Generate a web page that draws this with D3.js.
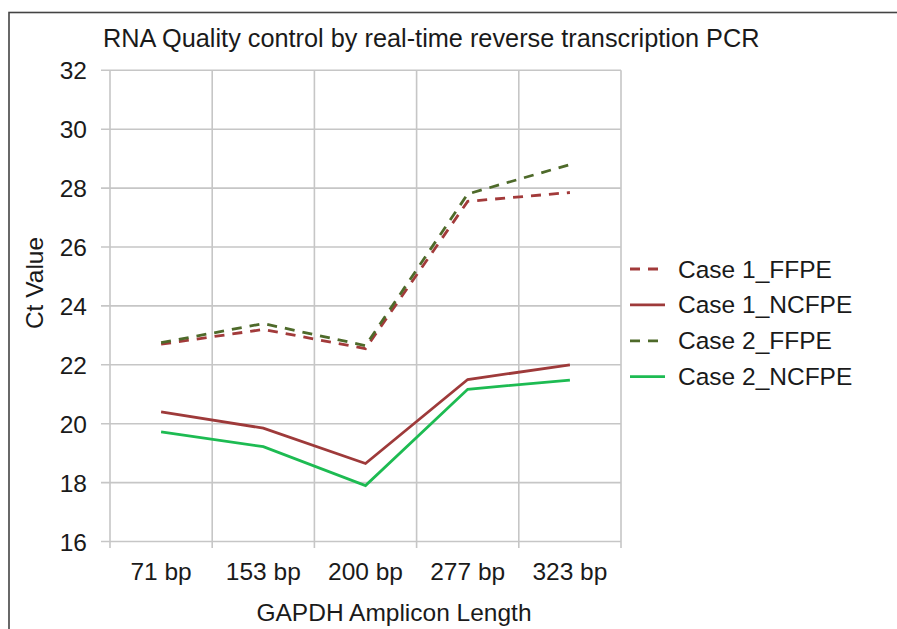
<!DOCTYPE html>
<html>
<head>
<meta charset="utf-8">
<script src="https://cdn.jsdelivr.net/npm/d3@7"></script>
<style>
  body { margin: 0; background: #fff; }
  svg text { font-family: "Liberation Sans", Arial, sans-serif; fill: #1a1a1a; }
</style>
</head>
<body>
<div id="chart"></div>
<script>
// chart data
var categories = ["71 bp", "153 bp", "200 bp", "277 bp", "323 bp"];
var case1FFPE = [22.7, 23.2, 22.55, 27.55, 27.85];
var case1NCFPE = [20.4, 19.85, 18.65, 21.5, 22.0];
var case2FFPE = [22.75, 23.4, 22.65, 27.8, 28.8];
var case2NCFPE = [19.72, 19.22, 17.9, 21.17, 21.48];
var yTicks = [16, 18, 20, 22, 24, 26, 28, 30, 32];

var series = [
  { name: "Case 1_FFPE", values: case1FFPE, color: "#a23a3a", dash: "10,8" },
  { name: "Case 1_NCFPE", values: case1NCFPE, color: "#9e3a3a", dash: null },
  { name: "Case 2_FFPE", values: case2FFPE, color: "#4e6a2a", dash: "10,8" },
  { name: "Case 2_NCFPE", values: case2NCFPE, color: "#1dbb52", dash: null }
];

var W = 897, H = 629;
var fs = 24.5;
var svg = d3.select("#chart").append("svg")
  .attr("width", W)
  .attr("height", H);

// outer frame (runs off the right and bottom edges)
svg.append("rect")
  .attr("x", 9).attr("y", 12.5)
  .attr("width", 900).attr("height", 640)
  .attr("fill", "none")
  .attr("stroke", "#444")
  .attr("stroke-width", 1.6);

var x = d3.scaleBand().domain(categories).range([110, 621]);
var y = d3.scaleLinear().domain([16, 32]).range([541.5, 70.3]);

// horizontal gridlines, with the little tick stub on the left
svg.append("g").selectAll("line")
  .data(yTicks)
  .enter().append("line")
  .attr("x1", 101).attr("x2", 621)
  .attr("y1", function(d) { return y(d); })
  .attr("y2", function(d) { return y(d); })
  .attr("stroke", "#c6c6c6")
  .attr("stroke-width", 1.6);

// vertical gridlines at band edges
var edges = categories.map(function(c) { return x(c); }).concat([621]);
svg.append("g").selectAll("line")
  .data(edges)
  .enter().append("line")
  .attr("x1", function(d) { return d; })
  .attr("x2", function(d) { return d; })
  .attr("y1", y(32)).attr("y2", 548)
  .attr("stroke", "#c6c6c6")
  .attr("stroke-width", 1.6);

// y tick labels
svg.append("g").selectAll("text")
  .data(yTicks)
  .enter().append("text")
  .attr("x", 87)
  .attr("y", function(d) { return y(d) + 9; })
  .attr("text-anchor", "end")
  .attr("font-size", fs)
  .text(function(d) { return d; });

// x tick labels
svg.append("g").selectAll("text")
  .data(categories)
  .enter().append("text")
  .attr("x", function(d) { return x(d) + x.bandwidth() / 2; })
  .attr("y", 580)
  .attr("text-anchor", "middle")
  .attr("font-size", fs)
  .text(function(d) { return d; });

// lines
var line = d3.line()
  .x(function(d, i) { return x(categories[i]) + x.bandwidth() / 2; })
  .y(function(d) { return y(d); });

svg.append("g").selectAll("path")
  .data(series)
  .enter().append("path")
  .attr("d", function(d) { return line(d.values); })
  .attr("fill", "none")
  .attr("stroke", function(d) { return d.color; })
  .attr("stroke-width", 2.8)
  .attr("stroke-dasharray", function(d) { return d.dash; });

// titles
svg.append("text")
  .attr("x", 103).attr("y", 47)
  .attr("font-size", 25.3)
  .text("RNA Quality control by real-time reverse transcription PCR");

svg.append("text")
  .attr("x", 394).attr("y", 621)
  .attr("text-anchor", "middle")
  .attr("font-size", fs)
  .text("GAPDH Amplicon Length");

svg.append("text")
  .attr("transform", "translate(43,283) rotate(-90)")
  .attr("text-anchor", "middle")
  .attr("font-size", fs)
  .text("Ct Value");

// legend
var legend = svg.append("g").selectAll("g")
  .data(series)
  .enter().append("g")
  .attr("transform", function(d, i) { return "translate(630," + (269 + i * 35.9) + ")"; });

legend.append("line")
  .attr("x1", 0).attr("x2", 35)
  .attr("stroke", function(d) { return d.color; })
  .attr("stroke-width", 2.8)
  .attr("stroke-dasharray", function(d) { return d.dash; });

legend.append("text")
  .attr("x", 48).attr("y", 8.5)
  .attr("font-size", fs)
  .text(function(d) { return d.name; });
</script>
</body>
</html>
